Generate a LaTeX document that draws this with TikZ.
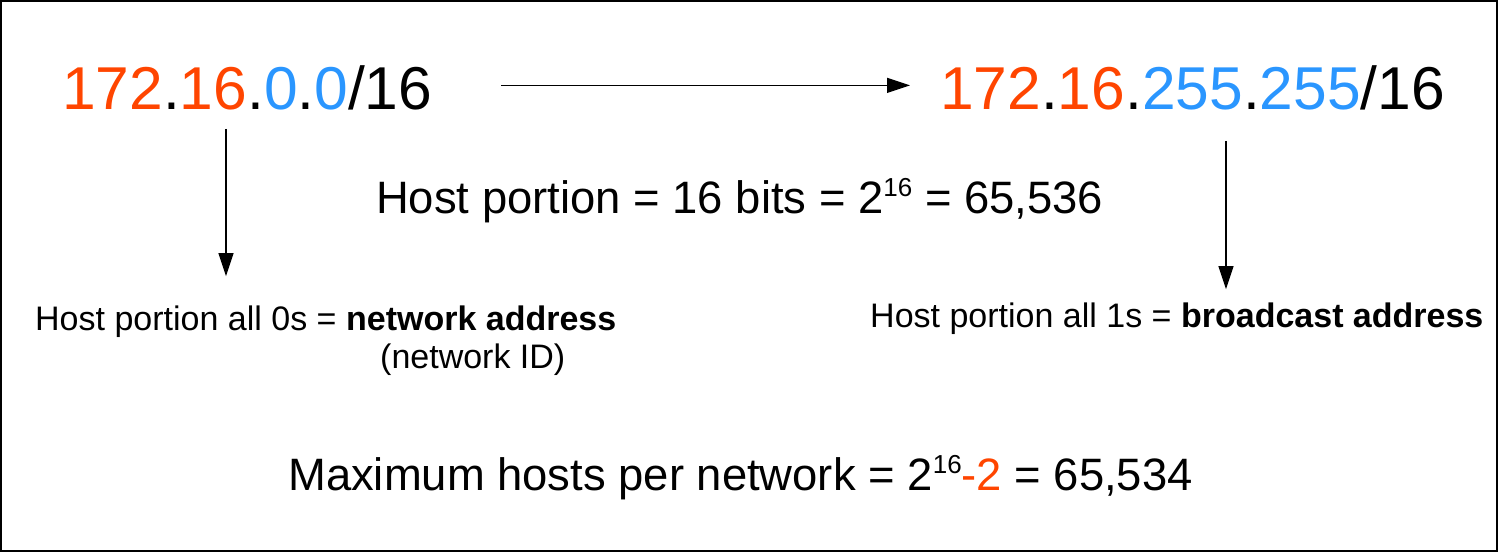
\documentclass[tikz,border=0pt]{standalone}
\usepackage{fontspec}
\setmainfont{Liberation Sans}
\usetikzlibrary{arrows.meta,calc}
\definecolor{NetOrange}{HTML}{FF4500}
\definecolor{HostBlue}{HTML}{2A96FF}
\newcommand{\netpart}[1]{\textcolor{NetOrange}{#1}}
\newcommand{\hostpart}[1]{\textcolor{HostBlue}{#1}}
\newcommand{\supnum}[1]{\raisebox{0.36em}{\fontsize{26}{26}\selectfont #1}}

\begin{document}
\begin{tikzpicture}[x=1pt, y=-1pt,
    addr/.style={font=\fontsize{60.5}{72}\selectfont, inner sep=0pt, anchor=base west},
    summary/.style={font=\fontsize{45.4}{54}\selectfont, inner sep=0pt, anchor=base west},
    note/.style={font=\fontsize{34}{41}\selectfont, inner sep=0pt, anchor=base west},
    pointer/.style={-{Triangle[length=23pt, width=15pt]}, line width=1.1pt}]
    \draw[line width=2pt] (1,1) rectangle (1497,551);

    \node[addr] (netaddr) at (62,109) {\netpart{172}.\netpart{16}.\hostpart{0}.\hostpart{0}/16};
    \node[addr] (bcastaddr) at (940,109) {\netpart{172}.\netpart{16}.\hostpart{255}.\hostpart{255}/16};

    \node[summary] (hostbits) at (376,213) {Host portion = 16 bits = 2\supnum{16} = 65,536};

    \node[note] (netlabel) at (35,330) {Host portion all 0s = \textbf{network address}};
    \node[note] (netid) at (380,368) {(network ID)};
    \node[note] (bcastlabel) at (870,327) {Host portion all 1s = \textbf{broadcast address}};

    \node[summary] (maxhosts) at (288,490) {Maximum hosts per network = 2\supnum{16}\netpart{-2} = 65,534};

    \coordinate (netdown) at ($(netaddr.south west)+(164,19)$);
    \coordinate (bcastdown) at ($(bcastaddr.south west)+(286,31)$);
    \draw[pointer] ($(netaddr.east)+(69,-2)$) -- ($(bcastaddr.west)+(-30,-2)$);
    \draw[pointer] (netdown) -- ($(netlabel.north west)+(191,-29)$);
    \draw[pointer] (bcastdown) -- ($(bcastlabel.north west)+(356,-13)$);
\end{tikzpicture}
\end{document}
